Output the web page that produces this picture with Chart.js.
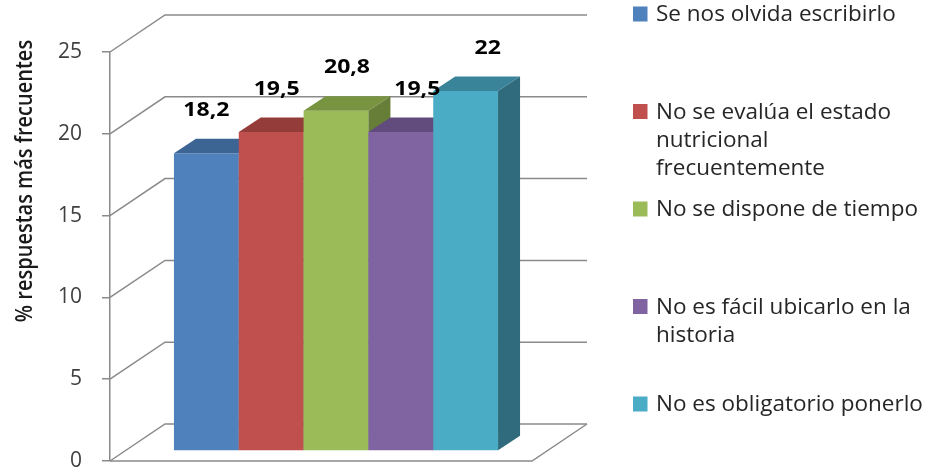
<!DOCTYPE html>
<html>
<head>
<meta charset="utf-8">
<script src="https://cdn.jsdelivr.net/npm/chart.js@4"></script>
<style>
  html, body { margin: 0; padding: 0; background: #ffffff; overflow: hidden; }
  #wrap { width: 930px; height: 473px; position: relative; }
  canvas { display: block; }
</style>
</head>
<body>
<div id="wrap"><canvas id="chart" width="930" height="473"></canvas></div>
<script>
// Series (one bar each), their values and the value-axis ticks
const seriesNames = [
  ['Se nos olvida escribirlo'],
  ['No se evalúa el estado', 'nutricional', 'frecuentemente'],
  ['No se dispone de tiempo'],
  ['No es fácil ubicarlo en la', 'historia'],
  ['No es obligatorio ponerlo']
];
const seriesValues = [18.2, 19.5, 20.8, 19.5, 22];
const yTicks = [0, 5, 10, 15, 20, 25];
const axisTitle = '% respuestas más frecuentes';

// Face colours: front, top, right side
const frontColors = ['#4F81BD', '#C0504D', '#9BBB59', '#8064A2', '#4BACC6'];
const topColors   = ['#3D6594', '#943C39', '#789440', '#614C7D', '#3A8499'];
const sideColors  = ['#34577F', '#7E3330', '#667E37', '#53416B', '#2F6B7C'];

// Oblique 3D geometry (pixels)
const WALL = { dx: 55, dy: -37 };        // full depth of the box
const BAR_SHIFT = { dx: 15, dy: -10 };   // bar front plane behind the front edge
const BAR_DEPTH = { dx: 22, dy: -14.5 }; // thickness of each bar
const GRID_COLOR = '#8a8a8a';
const FONT = '"Open Sans", sans-serif';

const fmt = v => v.toLocaleString('es-ES');

function poly(ctx, pts, fill) {
  ctx.beginPath();
  ctx.moveTo(pts[0][0], pts[0][1]);
  for (let k = 1; k < pts.length; k++) ctx.lineTo(pts[k][0], pts[k][1]);
  ctx.closePath();
  ctx.fillStyle = fill;
  ctx.fill();
}

const box3d = {
  id: 'box3d',
  beforeDatasetsDraw(chart) {
    const ctx = chart.ctx;
    const ys = chart.scales.y;
    const { left, right } = chart.chartArea;
    const y0 = ys.getPixelForValue(yTicks[0]);

    ctx.save();
    ctx.strokeStyle = GRID_COLOR;
    ctx.lineWidth = 1.5;
    // back wall gridlines and left-wall diagonals
    yTicks.forEach(v => {
      const y = ys.getPixelForValue(v);
      ctx.beginPath();
      ctx.moveTo(left, y);
      ctx.lineTo(left + WALL.dx, y + WALL.dy);
      ctx.lineTo(right + WALL.dx, y + WALL.dy);
      ctx.stroke();
    });
    // floor front and right edges
    ctx.beginPath();
    ctx.moveTo(left, y0);
    ctx.lineTo(right, y0);
    ctx.lineTo(right + WALL.dx, y0 + WALL.dy);
    ctx.stroke();

    // bars, painted left to right so each front hides the previous side
    chart.data.datasets.forEach((ds, i) => {
      const el = chart.getDatasetMeta(i).data[0];
      if (!el) return;
      const { x, y, base, width } = el.getProps(['x', 'y', 'base', 'width'], true);
      ctx.save();
      ctx.translate(BAR_SHIFT.dx, BAR_SHIFT.dy);
      el.draw(ctx, chart.chartArea);
      const L = x - width / 2, R = x + width / 2;
      const ddx = BAR_DEPTH.dx, ddy = BAR_DEPTH.dy;
      poly(ctx, [[L, y], [R, y], [R + ddx, y + ddy], [L + ddx, y + ddy]], topColors[i]);
      poly(ctx, [[R, y], [R + ddx, y + ddy], [R + ddx, base + ddy], [R, base]], sideColors[i]);
      ctx.restore();
    });
    ctx.restore();
    return false;
  },
  afterDraw(chart) {
    const ctx = chart.ctx;
    ctx.save();
    // value labels above the bars
    ctx.font = 'bold 20px ' + FONT;
    ctx.fillStyle = '#000000';
    ctx.textAlign = 'center';
    ctx.textBaseline = 'middle';
    chart.data.datasets.forEach((ds, i) => {
      const el = chart.getDatasetMeta(i).data[0];
      ctx.save();
      ctx.translate(el.x + BAR_SHIFT.dx + i * 5.5, el.y + BAR_SHIFT.dy - 43);
      ctx.scale(1.15, 1);
      ctx.fillText(fmt(ds.data[0]), 0, 0);
      ctx.restore();
    });

    // value axis title
    ctx.save();
    ctx.translate(25, 181);
    ctx.rotate(-Math.PI / 2);
    ctx.scale(1, 1.2);
    ctx.font = '600 20px ' + FONT;
    ctx.fillStyle = '#1a1a1a';
    ctx.fillText(axisTitle, 0, 0);
    ctx.restore();

    // legend
    ctx.textAlign = 'left';
    ctx.font = '22.5px ' + FONT;
    chart.data.datasets.forEach((ds, i) => {
      const yTop = 14 + i * 97.5;
      ctx.fillStyle = ds.backgroundColor;
      ctx.fillRect(633, yTop - 7.5, 14.5, 15);
      ctx.fillStyle = '#262626';
      ds.label.forEach((line, k) => ctx.fillText(line, 656, yTop + 1 + k * 28));
    });
    ctx.restore();
  }
};

new Chart(document.getElementById('chart'), {
  type: 'bar',
  data: {
    labels: [''],
    datasets: seriesNames.map((name, i) => ({
      label: name,
      data: [seriesValues[i]],
      backgroundColor: frontColors[i],
      borderWidth: 0
    }))
  },
  options: {
    responsive: false,
    animation: false,
    events: [],
    barPercentage: 1,
    categoryPercentage: 0.768,
    layout: { padding: { left: 0, top: 52, right: 398, bottom: 12 } },
    plugins: { legend: { display: false }, tooltip: { enabled: false } },
    scales: {
      x: { display: false },
      y: {
        min: yTicks[0],
        max: yTicks[yTicks.length - 1],
        afterFit(scale) {
          scale.width = 110;
          scale.paddingTop = 10;
          scale.paddingBottom = 10;
        },
        ticks: {
          stepSize: yTicks[1] - yTicks[0],
          padding: 20,
          color: '#404040',
          font: { family: FONT, size: 21, lineHeight: 1 }
        },
        grid: { drawOnChartArea: false, drawTicks: true, tickLength: 8, color: GRID_COLOR, lineWidth: 1.5 },
        border: { display: true, color: GRID_COLOR, width: 1.5 }
      }
    }
  },
  plugins: [box3d]
});
</script>
</body>
</html>
